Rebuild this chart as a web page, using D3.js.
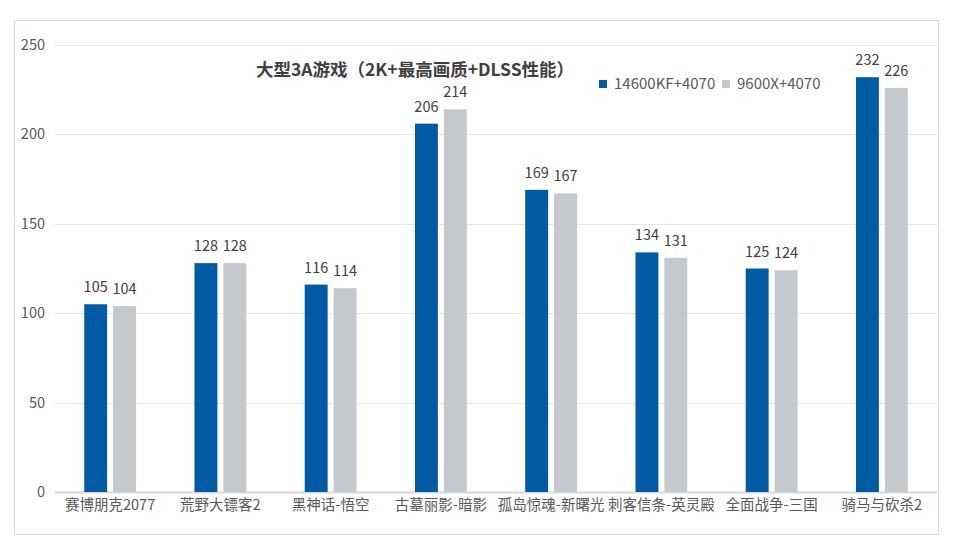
<!DOCTYPE html>
<html><head><meta charset="utf-8">
<script src="https://cdn.jsdelivr.net/npm/d3@7/dist/d3.min.js"></script>
<style>body{margin:0;background:#fff;}svg{display:block;font-family:"Noto Sans CJK SC","Noto Sans",sans-serif;}</style>
</head><body><svg id="c" width="960" height="548"></svg>
<script>
const categories = ["赛博朋克2077","荒野大镖客2","黑神话-悟空","古墓丽影-暗影","孤岛惊魂-新曙光","刺客信条-英灵殿","全面战争-三国","骑马与砍杀2"];
const seriesNames = ["14600KF+4070","9600X+4070"];
const series1 = [105,128,116,206,169,134,125,232];
const series2 = [104,128,114,214,167,131,124,226];
const yTicks = [0,50,100,150,200,250];
const title = "大型3A游戏（2K+最高画质+DLSS性能）";
const colors = ["#005ba4","#c5c8cc"];

(function(){
const svg = d3.select("#c");
svg.append("rect").attr("x",14.5).attr("y",20.5).attr("width",924).attr("height",514)
  .attr("fill","#fff").attr("stroke","#d9d9d9");

const pL=55, pR=937, pT=45, pB=492;
const y = d3.scaleLinear().domain([0,250]).range([pB, pT]);
const x0 = d3.scaleBand().domain(categories).range([pL,pR]).paddingInner(0.53).paddingOuter(0.265);
const x1 = d3.scaleBand().domain(seriesNames).range([0,x0.bandwidth()]).paddingInner(0.207);

svg.append("g").selectAll("line").data(yTicks).join("line")
  .attr("x1",pL).attr("x2",pR)
  .attr("y1",d=>Math.round(y(d))+0.5).attr("y2",d=>Math.round(y(d))+0.5)
  .attr("stroke",d=>d===0?"#d9d9d9":"#e6e6e6").attr("stroke-width",d=>d===0?2:1);

svg.append("g").selectAll("text").data(yTicks).join("text")
  .attr("x",45).attr("y",d=>y(d)).attr("dy","0.35em").attr("text-anchor","end")
  .attr("font-size",14.5).attr("fill","#595959").text(d=>d);

const data = categories.map((c,i)=>({c, vals:[series1[i],series2[i]]}));
const g = svg.append("g").selectAll("g").data(data).join("g")
  .attr("transform",d=>`translate(${x0(d.c)},0)`);
g.selectAll("rect").data(d=>d.vals.map((v,j)=>({v,s:seriesNames[j],j}))).join("rect")
  .attr("x",d=>x1(d.s)).attr("width",x1.bandwidth())
  .attr("y",d=>y(d.v)).attr("height",d=>y(0)-y(d.v)).attr("fill",d=>colors[d.j]);
g.selectAll("text").data(d=>d.vals.map((v,j)=>({v,s:seriesNames[j],j}))).join("text")
  .attr("x",d=>x1(d.s)+x1.bandwidth()/2).attr("y",d=>y(d.v)-12)
  .attr("text-anchor","middle").attr("font-size",14.5).attr("fill","#404040").text(d=>d.v);

svg.append("g").selectAll("text").data(categories).join("text")
  .attr("x",d=>x0(d)+x0.bandwidth()/2).attr("y",510).attr("text-anchor","middle")
  .attr("font-size",14.5).attr("fill","#595959").text(d=>d);

svg.append("text").attr("x",415).attr("y",76).attr("text-anchor","middle")
  .attr("font-size",17.5).attr("font-weight","bold").attr("fill","#404040").text(title);

const legX=[599,722];
const lg = svg.append("g").selectAll("g").data(seriesNames).join("g")
  .attr("transform",(d,i)=>`translate(${legX[i]},80)`);
lg.append("rect").attr("width",8).attr("height",8).attr("fill",(d,i)=>colors[i]);
lg.append("text").attr("x",15).attr("y",4).attr("dy","0.35em").attr("font-size",15)
  .attr("fill","#595959").text(d=>d);
})();
</script></body></html>
